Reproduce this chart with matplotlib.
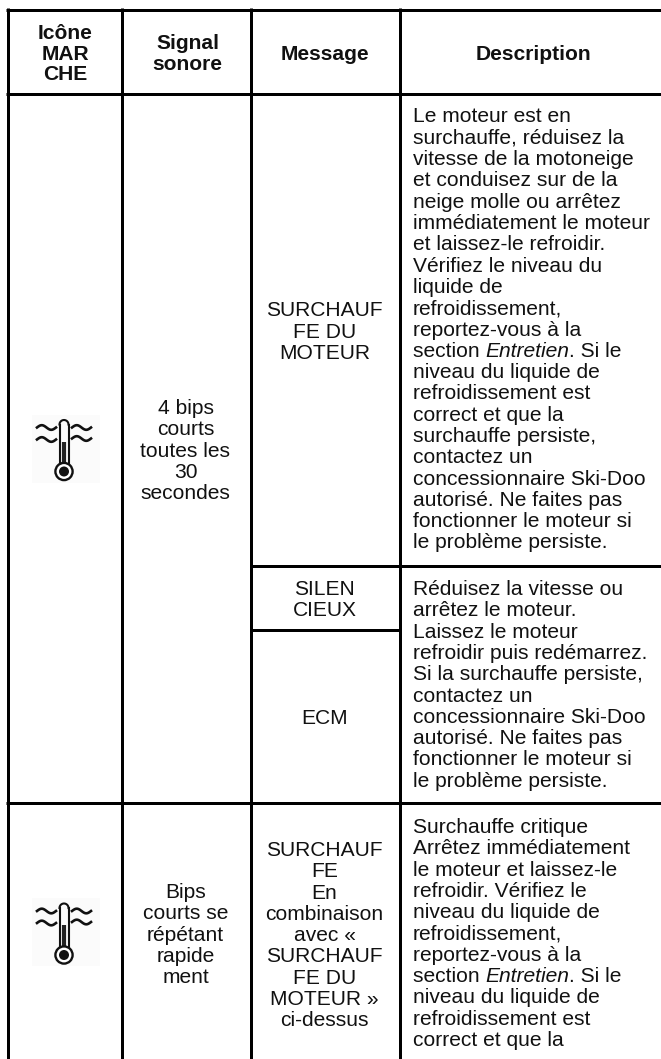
import matplotlib
matplotlib.use('Agg')
import matplotlib.pyplot as plt
import numpy as np

plt.rcParams['font.family'] = ['Liberation Sans', 'DejaVu Sans']

W, H = 661, 1059
col_x = [7.5, 121.5, 250.5, 399.5]
top_y = 9.5
header_y = 94
row_y = 803
sub_y = 566
msg_split = 629.5

header_1 = ['Icône', 'MAR', 'CHE']
header_2 = ['Signal', 'sonore']
header_3 = ['Message']
header_4 = ['Description']
signal_1 = ['4 bips', 'courts', 'toutes les', '30', 'secondes']
signal_2 = ['Bips', 'courts se', 'répétant', 'rapide', 'ment']
msg_1 = ['SURCHAUF', 'FE DU', 'MOTEUR']
msg_2 = ['SILEN', 'CIEUX']
msg_3 = ['ECM']
msg_4 = ['SURCHAUF', 'FE', 'En', 'combinaison', 'avec «', 'SURCHAUF', 'FE DU', 'MOTEUR »', 'ci-dessus']
desc_1 = ['Le moteur est en', 'surchauffe, réduisez la', 'vitesse de la motoneige', 'et conduisez sur de la',
          'neige molle ou arrêtez', 'immédiatement le moteur', 'et laissez-le refroidir.', 'Vérifiez le niveau du',
          'liquide de', 'refroidissement,', 'reportez-vous à la', 'section |Entretien|. Si le', 'niveau du liquide de',
          'refroidissement est', 'correct et que la', 'surchauffe persiste,', 'contactez un',
          'concessionnaire Ski-Doo', 'autorisé. Ne faites pas', 'fonctionner le moteur si', 'le problème persiste.']
desc_2 = ['Réduisez la vitesse ou', 'arrêtez le moteur.', 'Laissez le moteur', 'refroidir puis redémarrez.',
          'Si la surchauffe persiste,', 'contactez un', 'concessionnaire Ski-Doo', 'autorisé. Ne faites pas',
          'fonctionner le moteur si', 'le problème persiste.']
desc_3 = ['Surchauffe critique', 'Arrêtez immédiatement', 'le moteur et laissez-le', 'refroidir. Vérifiez le',
          'niveau du liquide de', 'refroidissement,', 'reportez-vous à la', 'section |Entretien|. Si le',
          'niveau du liquide de', 'refroidissement est', 'correct et que la']

LW = 2.16
FS = 15.1
LEAD = 21.3
INK = '#111111'

fig = plt.figure(figsize=(W / 100, H / 100), dpi=100)
ax = fig.add_axes([0, 0, 1, 1])
ax.set_xlim(0, W)
ax.set_ylim(H, 0)
ax.axis('off')


def hline(y, x0, x1):
    ax.plot([x0, x1], [y, y], color='black', lw=LW, solid_capstyle='butt')


def vline(x, y0, y1):
    ax.plot([x, x], [y0, y1], color='black', lw=LW, solid_capstyle='butt')


hline(top_y, col_x[0] - 1.5, W)
hline(header_y, col_x[0] - 1.5, W)
hline(row_y, col_x[0] - 1.5, W)
hline(sub_y, col_x[2], W)
hline(msg_split, col_x[2], col_x[3])
for x in col_x:
    vline(x, top_y - 1.5, H)


def centered(lines, cx, y0, lead=LEAD, weight='normal'):
    for i, s in enumerate(lines):
        ax.text(cx, y0 + i * lead, s, ha='center', va='baseline', fontsize=FS, color=INK, fontweight=weight)


def left_block(lines, x, y0):
    rend = fig.canvas.get_renderer()
    for i, s in enumerate(lines):
        y = y0 + i * LEAD
        cur = x
        for j, part in enumerate(s.split('|')):
            t = ax.text(cur, y, part, ha='left', va='baseline', fontsize=FS, color=INK,
                        style='italic' if j == 1 else 'normal')
            cur = ax.transData.inverted().transform(t.get_window_extent(rend))[1][0]


def thermometer(cx, by):
    # by is the centre of the bulb, everything else hangs off it
    ax.add_patch(plt.Rectangle((cx - 32, by - 57), 68, 68, color='#fbfbfb', lw=0, zorder=1))
    for off in (-4.5, 4.5):
        ax.plot([cx + off, cx + off], [by - 47, by - 8], color='#111111', lw=1.5, zorder=2)
    a = np.linspace(0, np.pi, 20)
    ax.plot(cx + 4.5 * np.cos(a), by - 47 - 4.5 * np.sin(a), color='#111111', lw=1.5, zorder=2)
    ax.plot([cx, cx], [by - 30, by - 5], color='#222222', lw=3.0, solid_capstyle='butt', zorder=2)
    ax.add_patch(plt.Circle((cx, by), 8.6, fc='white', ec='#111111', lw=1.7, zorder=3))
    ax.add_patch(plt.Circle((cx, by), 5.0, fc='#111111', ec='none', zorder=4))
    t = np.linspace(0, 1, 30)
    for x0, dy in ((-27, -44), (-27, -32), (8, -44), (8, -33)):
        xs = cx + x0 + 19 * t
        ys = by + dy - 2.3 * np.sin(t * 2 * np.pi)
        ax.plot(xs, ys, color='#111111', lw=1.9, zorder=2)


centered(header_1, 65, 39, lead=20.5, weight='bold')
centered(header_2, 187.5, 49, lead=21.5, weight='bold')
centered(header_3, 325, 59.5, weight='bold')
centered(header_4, 533, 59.5, weight='bold')

thermometer(64, 471.5)
centered(signal_1, 185.5, 414)
centered(msg_1, 324.5, 316.5)
centered(msg_2, 324.5, 595)
centered(msg_3, 324.5, 724)
left_block(desc_1, 413, 122.5)
left_block(desc_2, 413, 595)
thermometer(64, 955)
centered(signal_2, 185.5, 898)
centered(msg_4, 324.5, 856)
left_block(desc_3, 413, 833)

fig.savefig('out.png', dpi=100)
